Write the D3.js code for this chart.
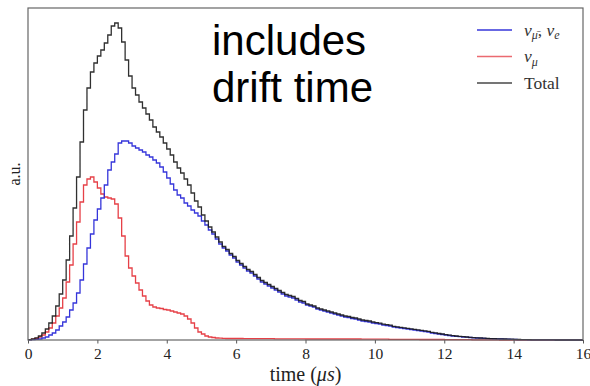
<!DOCTYPE html>
<html>
<head>
<meta charset="utf-8">
<script src="https://cdn.jsdelivr.net/npm/d3@7"></script>
<style>
  body { margin: 0; background: #fff; }
  .tick text { font-family: "Liberation Serif", "DejaVu Serif", serif; }
</style>
</head>
<body>
<div id="chart"></div>
<script>
// Chart data: 0.1 us bins starting at t = 0
var binWidth = 0.1;
var xTicks = [0, 2, 4, 6, 8, 10, 12, 14, 16];

var nuMuBarE = [
  0.1, 0.3, 0.6, 1, 2, 3, 5, 7, 10, 14,
  18, 23, 30, 37, 47, 60, 76, 92, 106, 120,
  131, 142, 155, 170, 178, 186, 197, 199, 199, 197,
  194, 192, 190, 188, 185, 183, 180, 177, 173, 168,
  162, 156, 150, 145, 142, 137, 134, 130, 127, 124,
  119, 115, 110, 106, 101, 96, 92, 89, 85, 82,
  78, 75, 72, 69, 67, 64, 61, 58, 56, 54,
  52, 50, 48, 46, 44, 43, 42, 40, 38, 37,
  35, 34, 33, 31, 30, 29, 28, 27, 26, 25,
  24, 23, 22.5, 21.5, 21, 20, 19, 18.5, 18, 17,
  16.5, 16, 15, 14.5, 14, 13, 12.5, 12, 11.5, 11,
  10.5, 10, 9.5, 9, 8.5, 8, 7, 6.5, 6, 5.5,
  5, 4.5, 4, 3.7, 3.4, 3, 2.8, 2.5, 2.2, 2,
  1.8, 1.6, 1.4, 1.3, 1.2, 1.1, 1, 0.9, 0.8, 0.7,
  0.5, 0.4, 0.3, 0.3, 0.2, 0.2, 0.1, 0.1, 0.1, 0.05,
  0.05, 0.05, 0, 0, 0, 0, 0, 0, 0, 0
];

var nuMu = [
  0.3, 0.8, 1.5, 3, 5, 8, 12, 17, 24, 32,
  42, 58, 75, 96, 118, 138, 155, 161, 163, 158,
  152, 146, 143, 142, 141, 136, 122, 104, 84, 72,
  64, 57, 50, 44, 39, 35, 33, 32, 31.5, 30.5,
  30, 29, 28, 27, 26, 24, 21, 17, 12, 8,
  6, 4, 3, 2.5, 2, 1.8, 1.6, 1.5, 1.5, 1.5,
  1.5, 1.5, 1.4, 1.4, 1.4, 1.4, 1.3, 1.3, 1.3, 1.3,
  1.3, 1.2, 1.2, 1.2, 1.2, 1.2, 1.2, 1.1, 1.1, 1.1,
  1, 1, 1, 1, 1, 1, 1, 1, 1, 1,
  1, 1, 1, 1, 1, 1, 0.9, 0.9, 0.9, 0.9,
  0.8, 0.8, 0.8, 0.8, 0.7, 0.7, 0.7, 0.7, 0.6, 0.6,
  0.6, 0.6, 0.6, 0.5, 0.5, 0.5, 0.5, 0.5, 0.5, 0.5,
  0.4, 0.4, 0.4, 0.4, 0.3, 0.3, 0.3, 0.3, 0.2, 0.2,
  0.2, 0.1, 0.1, 0.1, 0.1, 0.1, 0, 0, 0, 0,
  0, 0, 0, 0, 0, 0, 0, 0, 0, 0,
  0, 0, 0, 0, 0, 0, 0, 0, 0, 0
];

var total = [
  0.4, 1.1, 2.2, 4, 7, 11, 17, 24, 34, 46,
  60, 80, 104, 132, 163, 198, 230, 252, 268, 277,
  284, 290, 297, 305, 314, 317, 312, 298, 280, 264,
  252, 245, 238, 232, 226, 220, 213, 208, 203, 197,
  191, 185, 178, 172, 167, 161, 155, 147, 139, 133,
  125, 119, 113, 108, 103, 98, 93.5, 90.5, 86.5, 83.5,
  79.5, 76.5, 73.5, 70.5, 68.5, 65.5, 62.5, 59.5, 57.5, 55.5,
  53.5, 51.5, 49.5, 47.5, 45.5, 44.5, 43.5, 41.5, 39.5, 38.5,
  36, 35, 34, 32, 31, 30, 29, 28, 27, 26,
  25, 24, 23.5, 22.5, 22, 21, 20, 19.5, 19, 18,
  17.3, 16.8, 15.8, 15.3, 14.8, 13.7, 13.2, 12.7, 12.2, 11.7,
  11.2, 10.6, 10.1, 9.6, 9.1, 8.6, 7.6, 7.1, 6.5, 6,
  5.4, 4.9, 4.4, 4, 3.7, 3.3, 3, 2.7, 2.4, 2.2,
  2, 1.8, 1.6, 1.4, 1.3, 1.2, 1.1, 1, 0.9, 0.8,
  0.6, 0.5, 0.4, 0.3, 0.3, 0.2, 0.2, 0.1, 0.1, 0.1,
  0.05, 0.05, 0, 0, 0, 0, 0, 0, 0, 0
];

// Chart Params
var svgWidth = 590;
var svgHeight = 386;

var margin = {
    top: 8,
    right: 7,
    bottom: 46,
    left: 28
};

var width = svgWidth - margin.left - margin.right;
var height = svgHeight - margin.top - margin.bottom;

var svg = d3.select("#chart")
    .append("svg")
    .attr("width", svgWidth)
    .attr("height", svgHeight);

var chartGroup = svg.append("g")
    .attr("transform", `translate(${margin.left}, ${margin.top})`);

var x = d3.scaleLinear()
    .domain([0, 16])
    .range([0, width]);

var y = d3.scaleLinear()
    .domain([0, 332])
    .range([height, 0]);

// step histogram path: (edge, value) pairs + closing edge
function stepPoints(values) {
    var pts = [[0, 0]];
    values.forEach(function(v, i) {
        pts.push([i * binWidth, v]);
    });
    pts.push([values.length * binWidth, 0]);
    return pts;
}

var stepLine = d3.line()
    .x(d => x(d[0]))
    .y(d => y(d[1]))
    .curve(d3.curveStepAfter);

var series = [
    { name: "nuMu", values: nuMu, color: "#e32b33", opacity: 0.9 },
    { name: "nuMuBarE", values: nuMuBarE, color: "#2a2ad8", opacity: 0.95 },
    { name: "total", values: total, color: "#1a1a1a", opacity: 0.9 }
];

chartGroup.append("clipPath").attr("id", "plotClip")
    .append("rect").attr("width", width).attr("height", height + 1);

chartGroup.selectAll(".hist")
    .data(series)
    .enter()
    .append("path")
    .attr("class", "hist")
    .attr("clip-path", "url(#plotClip)")
    .attr("d", d => stepLine(stepPoints(d.values)))
    .attr("fill", "none")
    .attr("stroke", d => d.color)
    .attr("stroke-opacity", d => d.opacity)
    .attr("stroke-width", 1.3);

// axes
var bottomAxis = d3.axisBottom(x)
    .tickValues(xTicks)
    .tickSize(3.5)
    .tickPadding(4)
    .tickFormat(d3.format("d"));

var xAxisG = chartGroup.append("g")
    .attr("transform", `translate(0, ${height})`)
    .call(bottomAxis);
xAxisG.select(".domain").remove();
xAxisG.selectAll(".tick line").attr("stroke", "#555");
xAxisG.selectAll(".tick text")
    .attr("font-size", "15.5px")
    .attr("fill", "#222");

// frame
chartGroup.append("rect")
    .attr("width", width)
    .attr("height", height)
    .attr("fill", "none")
    .attr("stroke", "#666")
    .attr("stroke-width", 1.2);

// axis labels
var xLabel = svg.append("text")
    .attr("x", margin.left + width / 2)
    .attr("y", 381)
    .attr("text-anchor", "middle")
    .attr("font-family", "Liberation Serif, DejaVu Serif, serif")
    .attr("font-size", "20px")
    .attr("fill", "#222");
xLabel.append("tspan").text("time (");
xLabel.append("tspan").attr("font-style", "italic").text("μs");
xLabel.append("tspan").text(")");

svg.append("text")
    .attr("transform", "translate(20, 174) rotate(-90)")
    .attr("text-anchor", "middle")
    .attr("font-family", "Liberation Serif, DejaVu Serif, serif")
    .attr("font-size", "16px")
    .attr("fill", "#222")
    .text("a.u.");

// annotation
var note = svg.append("text")
    .attr("font-family", "Liberation Sans, Arial, sans-serif")
    .attr("font-size", "42px")
    .attr("fill", "#000");
note.append("tspan").attr("x", 212).attr("y", 55).text("includes");
note.append("tspan").attr("x", 212).attr("y", 102).text("drift time");

// legend
var legendItems = [
    { color: "#2a2ad8", op: 0.95, label: ["ν", "μ̄", ", ", "ν", "e"] },
    { color: "#e32b33", op: 0.7, label: ["ν", "μ"] },
    { color: "#1a1a1a", op: 0.8, label: ["Total"] }
];

var legend = svg.append("g").attr("transform", "translate(477, 30)");
legendItems.forEach(function(item, i) {
    var g = legend.append("g").attr("transform", `translate(0, ${i * 26.5})`);
    g.append("line")
        .attr("x1", 0).attr("x2", 35)
        .attr("stroke", item.color)
        .attr("stroke-opacity", item.op)
        .attr("stroke-width", 1.5);
    var t = g.append("text")
        .attr("x", 47)
        .attr("y", 5.5)
        .attr("font-family", "Liberation Serif, DejaVu Serif, serif")
        .attr("font-size", "17.5px")
        .attr("fill", "#333");
    if (item.label.length === 1) {
        t.text(item.label[0]);
    } else {
        t.append("tspan").attr("font-style", "italic").text(item.label[0]);
        t.append("tspan").attr("font-style", "italic").attr("font-size", "12px")
            .attr("dy", 3.5).text(item.label[1]);
        if (item.label.length > 2) {
            t.append("tspan").attr("dy", -3.5).text(item.label[2]);
            t.append("tspan").attr("font-style", "italic").text(item.label[3]);
            t.append("tspan").attr("font-style", "italic").attr("font-size", "12px")
                .attr("dy", 3.5).text(item.label[4]);
        }
    }
});
</script>
</body>
</html>
